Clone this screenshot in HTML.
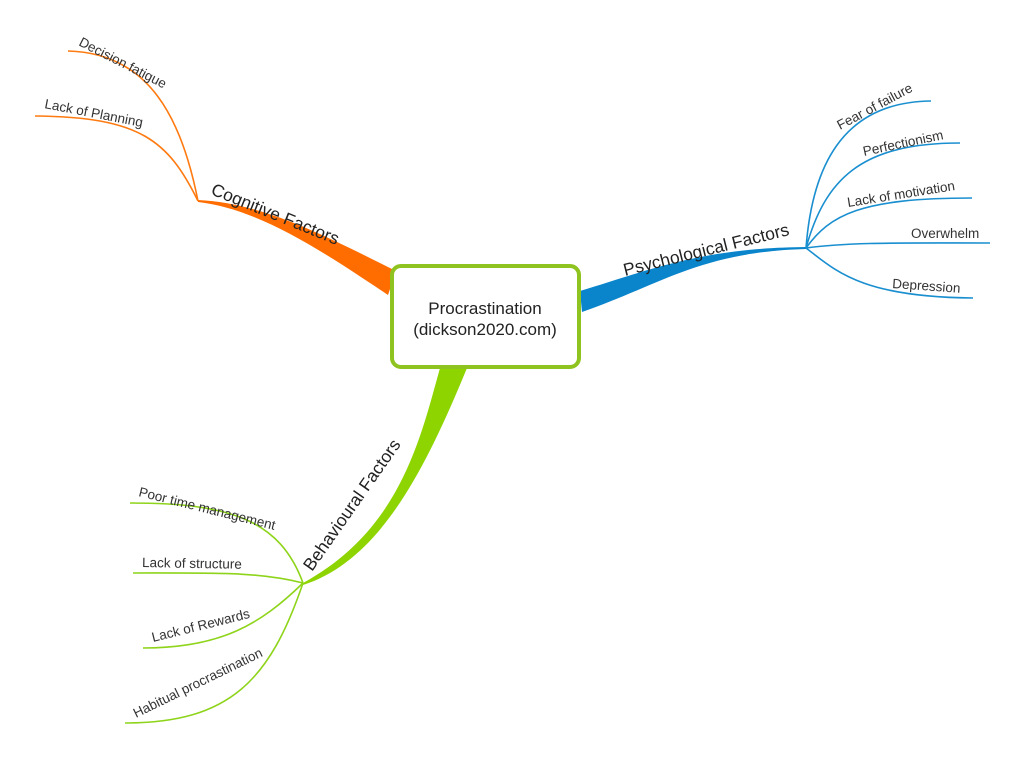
<!DOCTYPE html>
<html><head><meta charset="utf-8"><style>
html,body{margin:0;padding:0;background:#fff;}
svg{display:block;font-family:"Liberation Sans",sans-serif;}
</style></head><body>
<svg width="1023" height="758" viewBox="0 0 1023 758" xmlns="http://www.w3.org/2000/svg">
<!-- orange -->
<path d="M198,200 C262,203 322,234 396,271 L388,295 C318,248 258,209 198,202 Z" fill="#ff6d00"/>
<g fill="none" stroke="#ff7a10" stroke-width="1.6">
<path d="M198,201 C182,120 150,53 68,51"/>
<path d="M198,201 C168,140 140,117 35,116"/>
</g>
<g fill="#333" font-size="13.5">
<text transform="translate(78,45) rotate(27)">Decision fatigue</text>
<text transform="translate(44,108) rotate(11)">Lack of Planning</text>
</g>
<text transform="translate(210,194) rotate(22)" font-size="17.5" fill="#222">Cognitive Factors</text>

<!-- blue -->
<path d="M580,291 C650,270 700,248 806,247 L806,249 C700,252 660,285 582,312 Z" fill="#0a85cc"/>
<g fill="none" stroke="#1a8fd0" stroke-width="1.6">
<path d="M806,248 C812,170 840,102 931,101"/>
<path d="M806,248 C825,180 860,143 960,143"/>
<path d="M806,248 C830,215 860,198 972,198"/>
<path d="M806,248 C850,242 900,243 990,243"/>
<path d="M806,248 C835,270 860,297 973,298"/>
</g>
<g fill="#333" font-size="13.5">
<text transform="translate(840,130) rotate(-28)">Fear of failure</text>
<text transform="translate(864,156) rotate(-12)">Perfectionism</text>
<text transform="translate(848,207) rotate(-9)">Lack of motivation</text>
<text transform="translate(911,238)">Overwhelm</text>
<text transform="translate(892,288) rotate(4)">Depression</text>
</g>
<text transform="translate(625,276) rotate(-14)" font-size="17.5" fill="#222">Psychological Factors</text>

<!-- green -->
<path d="M440,368 C420,440 400,530 303,583 L303,585 C380,560 425,470 467,368 Z" fill="#8ed400"/>
<g fill="none" stroke="#8ed41a" stroke-width="1.6">
<path d="M303,583 C280,520 230,503 130,503"/>
<path d="M303,583 C260,572 220,573 133,573"/>
<path d="M303,583 C260,625 220,648 143,648"/>
<path d="M303,583 C270,680 230,723 125,723"/>
</g>
<g fill="#333" font-size="13.5">
<text transform="translate(138,496) rotate(14)">Poor time management</text>
<text transform="translate(142,567) rotate(1)">Lack of structure</text>
<text transform="translate(153,642) rotate(-14)">Lack of Rewards</text>
<text transform="translate(136,718) rotate(-26)">Habitual procrastination</text>
</g>
<text transform="translate(312,572) rotate(-55)" font-size="17.5" fill="#222">Behavioural Factors</text>

<!-- center -->
<rect x="392" y="266" width="187" height="101" rx="9" fill="#fff" stroke="#8fc31f" stroke-width="4"/>
<text x="485" y="314" text-anchor="middle" font-size="17" fill="#222">Procrastination</text>
<text x="485" y="335" text-anchor="middle" font-size="17" fill="#222">(dickson2020.com)</text>
</svg>
</body></html>
